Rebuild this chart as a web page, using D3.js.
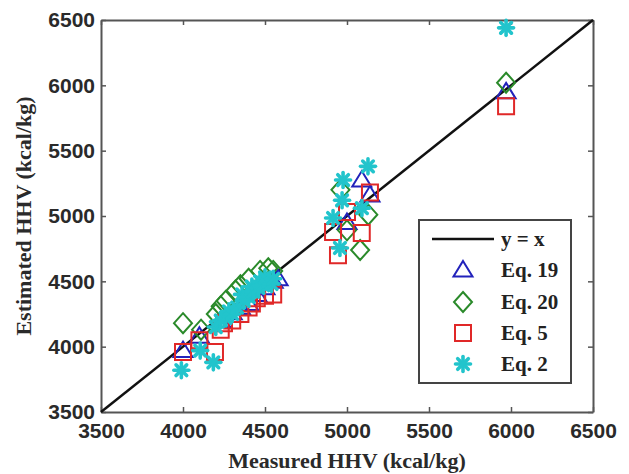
<!DOCTYPE html>
<html>
<head>
<meta charset="utf-8">
<script src="https://cdn.jsdelivr.net/npm/d3@7"></script>
<style>
  body { margin: 0; background: #fff; }
  svg { display: block; font-family: 'Liberation Serif', 'Times New Roman', serif; }
  .tick text { font-size: 21px; font-weight: bold; fill: #2a2a2a; }
  .axis path, .axis line { stroke: #555; }
  text.title { font-size: 22px; font-weight: bold; fill: #2a2a2a; }
  text.leg { font-size: 21px; font-weight: bold; fill: #222; }
</style>
</head>
<body>
<div id="chart"></div>
<script>
// measured / estimated HHV (kcal/kg)
const ticks = [3500, 4000, 4500, 5000, 5500, 6000, 6500];

const eq19 = [
  [4000, 3970], [4100, 4080], [4230, 4200], [4300, 4260], [4350, 4300], [4400, 4330],
  [4450, 4400], [4500, 4450], [4550, 4500], [4580, 4520],
  [5000, 4950], [5090, 5275], [5140, 5160], [5970, 5950]
];
const eq20 = [
  [4000, 4180], [4110, 4130], [4200, 4250], [4230, 4310], [4260, 4350], [4320, 4430],
  [4350, 4470], [4400, 4520], [4470, 4580], [4520, 4600], [4550, 4580],
  [4960, 5200], [5000, 4890], [5130, 5010], [5080, 4740], [5970, 6020]
];
const eq5 = [
  [4000, 3960], [4100, 4050], [4195, 3960], [4230, 4130], [4250, 4180], [4300, 4200],
  [4350, 4250], [4400, 4300], [4420, 4330], [4450, 4370], [4500, 4390], [4550, 4400],
  [4915, 4877], [4945, 4700], [5000, 5030], [5090, 4870], [5140, 5180], [5970, 5840]
];
const eq2 = [
  [3990, 3820], [4105, 3970], [4185, 3880], [4200, 4150], [4230, 4200], [4260, 4220],
  [4280, 4270], [4300, 4250], [4330, 4300], [4360, 4400], [4370, 4350], [4400, 4380],
  [4420, 4460], [4430, 4420], [4460, 4450], [4470, 4500], [4490, 4470], [4500, 4530],
  [4520, 4500], [4540, 4480], [4550, 4520],
  [4915, 4985], [4957, 4755], [4970, 5120], [4976, 5275], [5091, 5060], [5128, 5380],
  [5970, 6440]
];

const W = 629, H = 474;
const m = {left: 101, right: 36, top: 20, bottom: 62};

const svg = d3.select("#chart").append("svg").attr("width", W).attr("height", H);

const x = d3.scaleLinear().domain([3500, 6500]).range([m.left, W - m.right]);
const y = d3.scaleLinear().domain([3500, 6500]).range([H - m.bottom, m.top]);

const tl = 5;
svg.append("g").attr("class", "axis").attr("transform", `translate(0,${y(3500)})`)
  .call(d3.axisBottom(x).tickValues(ticks).tickSizeInner(-tl).tickSizeOuter(0).tickPadding(11).tickFormat(d3.format("d")));
svg.append("g").attr("class", "axis").attr("transform", `translate(${x(3500)},0)`)
  .call(d3.axisLeft(y).tickValues(ticks).tickSizeInner(-tl).tickSizeOuter(0).tickPadding(6).tickFormat(d3.format("d")));
svg.append("g").attr("class", "axis").attr("transform", `translate(0,${y(6500)})`)
  .call(d3.axisTop(x).tickValues(ticks).tickSizeInner(-tl).tickSizeOuter(0).tickFormat(""));
svg.append("g").attr("class", "axis").attr("transform", `translate(${x(6500)},0)`)
  .call(d3.axisRight(y).tickValues(ticks).tickSizeInner(-tl).tickSizeOuter(0).tickFormat(""));
svg.selectAll(".axis path").attr("stroke-width", 2);
svg.selectAll(".axis line").attr("stroke-width", 1.5);

// y = x
svg.append("line")
  .attr("x1", x(3500)).attr("y1", y(3500)).attr("x2", x(6500)).attr("y2", y(6500))
  .attr("stroke", "#111").attr("stroke-width", 2.5);

// marker shapes (open, MATLAB-like)
const tri = "M0,-9L9.5,6.5L-9.5,6.5Z";
const dia = "M0,-10L9,0L0,10L-9,0Z";
const sq = "M-8,-8H8V8H-8Z";

function star(g, cx, cy, r) {
  const s = g.append("g").attr("transform", `translate(${cx},${cy})`);
  for (let a = 0; a < 4; a++) {
    const t = a * Math.PI / 4;
    s.append("line")
      .attr("x1", -r * Math.cos(t)).attr("y1", -r * Math.sin(t))
      .attr("x2", r * Math.cos(t)).attr("y2", r * Math.sin(t))
      .attr("stroke", "#22c4cc").attr("stroke-width", 3.6).attr("stroke-linecap", "round");
  }
}

const colors = {eq19: "#2222bb", eq20: "#2a8a2a", eq5: "#e02828", eq2: "#22c4cc"};

svg.append("g").selectAll("path").data(eq19).join("path")
  .attr("d", tri).attr("transform", d => `translate(${x(d[0])},${y(d[1])})`)
  .attr("fill", "none").attr("stroke", colors.eq19).attr("stroke-width", 2);
svg.append("g").selectAll("path").data(eq20).join("path")
  .attr("d", dia).attr("transform", d => `translate(${x(d[0])},${y(d[1])})`)
  .attr("fill", "none").attr("stroke", colors.eq20).attr("stroke-width", 2);
svg.append("g").selectAll("path").data(eq5).join("path")
  .attr("d", sq).attr("transform", d => `translate(${x(d[0])},${y(d[1])})`)
  .attr("fill", "none").attr("stroke", colors.eq5).attr("stroke-width", 2);
const gs = svg.append("g");
eq2.forEach(d => star(gs, x(d[0]), y(d[1]), 7.5));

// axis titles
svg.append("text").attr("class", "title")
  .attr("x", (x(3500) + x(6500)) / 2).attr("y", 468).attr("text-anchor", "middle")
  .text("Measured HHV (kcal/kg)");
svg.append("text").attr("class", "title")
  .attr("transform", `translate(31,${(y(3500) + y(6500)) / 2}) rotate(-90)`)
  .attr("text-anchor", "middle")
  .text("Estimated HHV (kcal/kg)");

// legend
const lg = svg.append("g");
lg.append("rect").attr("x", 419).attr("y", 220).attr("width", 152).attr("height", 163)
  .attr("fill", "#fff").attr("stroke", "#444").attr("stroke-width", 2);
lg.append("line").attr("x1", 432).attr("x2", 494).attr("y1", 239).attr("y2", 239)
  .attr("stroke", "#111").attr("stroke-width", 2.5);
lg.append("text").attr("class", "leg").attr("x", 501).attr("y", 246).text("y = x");
const legItems = [
  {name: "Eq. 19", sym: tri, c: colors.eq19, yy: 270},
  {name: "Eq. 20", sym: dia, c: colors.eq20, yy: 302},
  {name: "Eq. 5", sym: sq, c: colors.eq5, yy: 333},
  {name: "Eq. 2", sym: null, c: colors.eq2, yy: 364}
];
legItems.forEach(it => {
  if (it.sym) {
    lg.append("path").attr("d", it.sym).attr("transform", `translate(463,${it.yy})`)
      .attr("fill", "none").attr("stroke", it.c).attr("stroke-width", 2);
  } else {
    star(lg, 463, it.yy, 7.5);
  }
  lg.append("text").attr("class", "leg").attr("x", 501).attr("y", it.yy + 7).text(it.name);
});
</script>
</body>
</html>
